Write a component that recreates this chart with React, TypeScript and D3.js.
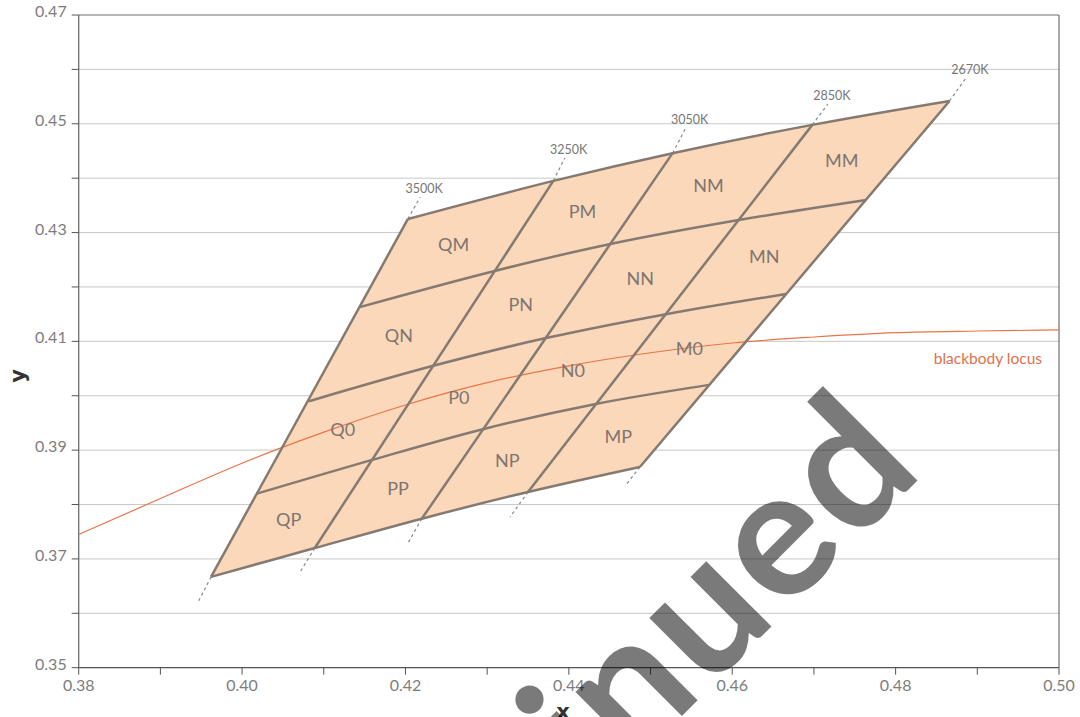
import React from "react";
import * as d3 from "d3";

const W = 1080;
const H = 717;

const xTicks = [0.38, 0.39, 0.4, 0.41, 0.42, 0.43, 0.44, 0.45, 0.46, 0.47, 0.48, 0.49, 0.5];
const xTickLabels = ["0.38", "", "0.40", "", "0.42", "", "0.44", "", "0.46", "", "0.48", "", "0.50"];
const yTicks = [0.35, 0.36, 0.37, 0.38, 0.39, 0.4, 0.41, 0.42, 0.43, 0.44, 0.45, 0.46, 0.47];
const yTickLabels = ["0.35", "", "0.37", "", "0.39", "", "0.41", "", "0.43", "", "0.45", "", "0.47"];

const isotherms = ["3500K", "3250K", "3050K", "2850K", "2670K"];
const colNames = ["Q", "P", "N", "M"];
const rowNames = ["M", "N", "0", "P"];

// Quadrangle grid lines (x, y chromaticity), from 3500K to 2670K
const edgeTop: [number, number][] = [[0.4203, 0.4325], [0.4381, 0.4395], [0.4527, 0.4446], [0.4698, 0.4498], [0.4866, 0.4542]];
const lineMN: [number, number][] = [[0.4144, 0.4163], [0.4308, 0.4229], [0.4451, 0.4279], [0.4608, 0.4323], [0.4764, 0.4360]];
const lineN0: [number, number][] = [[0.4082, 0.3990], [0.4234, 0.4055], [0.4372, 0.4106], [0.4519, 0.4150], [0.4666, 0.4187]];
const line0P: [number, number][] = [[0.4018, 0.3820], [0.4159, 0.3882], [0.4296, 0.3939], [0.4433, 0.3985], [0.4572, 0.4020]];
const edgeBottom: [number, number][] = [[0.3962, 0.3667], [0.4089, 0.3720], [0.4220, 0.3774], [0.4350, 0.3823], [0.4487, 0.3869]];

// dashed isotherm extensions
const isoLow: [number, number][] = [[0.3947, 0.3623], [0.4071, 0.3676], [0.4203, 0.3729], [0.4328, 0.3777], [0.4469, 0.3834]];
const isoHigh: [number, number][] = [[0.4218, 0.4365], [0.4395, 0.4437], [0.4543, 0.4492], [0.4717, 0.4536], [0.4886, 0.4584]];

// blackbody locus
const locusX = [0.38, 0.39, 0.4, 0.41, 0.42, 0.43, 0.44, 0.45, 0.46, 0.47, 0.48, 0.49, 0.5];
const locusY = [0.3745, 0.3811, 0.3876, 0.3933, 0.3983, 0.4024, 0.4055, 0.4079, 0.4097, 0.4108, 0.4116, 0.4119, 0.4121];

const FONT = "Lato, 'Open Sans', sans-serif";

export default function App() {
  const x = d3.scaleLinear().domain([0.38, 0.5]).range([78.7, 1059]);
  const y = d3.scaleLinear().domain([0.35, 0.47]).range([667.7, 15]);

  const rows = [edgeTop, lineMN, lineN0, line0P, edgeBottom];
  const curve = d3
    .line<[number, number]>()
    .x((d) => x(d[0]))
    .y((d) => y(d[1]))
    .curve(d3.curveCatmullRom.alpha(0.5));
  const straight = d3
    .line<[number, number]>()
    .x((d) => x(d[0]))
    .y((d) => y(d[1]));

  const topD = curve(edgeTop) || "";
  const botD = (curve([...edgeBottom].reverse()) || "").replace(/^M/, "L");
  const outline = topD + botD + "Z";

  const locus = d3
    .line<number>()
    .x((d) => x(d))
    .y((_, i) => y(locusY[i]))
    .curve(d3.curveMonotoneX)(locusX) || "";

  const cells: { label: string; cx: number; cy: number }[] = [];
  for (let r = 0; r < 4; r++) {
    for (let c = 0; c < 4; c++) {
      const pts = [rows[r][c], rows[r][c + 1], rows[r + 1][c + 1], rows[r + 1][c]];
      const cx = d3.mean(pts, (p) => x(p[0])) as number;
      const cy = d3.mean(pts, (p) => y(p[1])) as number;
      cells.push({ label: colNames[c] + rowNames[r], cx, cy });
    }
  }

  const x0 = x(0.38);
  const x1 = x(0.5);
  const yb = y(0.35);
  const yt = y(0.47);
  const stroke = "#857a72";

  return (
    <svg width={W} height={H} style={{ position: "absolute", left: 0, top: 0, background: "#fff" }}>
      {/* gridlines */}
      {yTicks.slice(1, -1).map((t) => (
        <line key={"g" + t} x1={x0} x2={x1} y1={y(t)} y2={y(t)} stroke="#c9c9c9" strokeWidth={1} />
      ))}
      {/* frame */}
      <line x1={x0} x2={x1} y1={yt} y2={yt} stroke="#6e6e6e" strokeWidth={1.2} />
      <line x1={x1} x2={x1} y1={yt} y2={yb} stroke="#6e6e6e" strokeWidth={1.2} />
      <line x1={x0} x2={x1} y1={yb} y2={yb} stroke="#555" strokeWidth={1.3} />
      <line x1={x0} x2={x0} y1={yt} y2={yb} stroke="#6e6e6e" strokeWidth={1.3} />
      {/* ticks */}
      {yTicks.map((t, i) => (
        <g key={"yt" + t}>
          <line x1={x0 - 7} x2={x0} y1={y(t)} y2={y(t)} stroke="#555" strokeWidth={1} />
          {yTickLabels[i] && (
            <text x={x0 - 12} y={y(t) + 2} textAnchor="end" fontFamily={FONT} fontSize={16} fill="#7d7d7d">
              {yTickLabels[i]}
            </text>
          )}
        </g>
      ))}
      {xTicks.map((t, i) => (
        <g key={"xt" + t}>
          <line x1={x(t)} x2={x(t)} y1={yb} y2={yb + 7} stroke="#555" strokeWidth={1} />
          {xTickLabels[i] && (
            <text x={x(t)} y={yb + 23} textAnchor="middle" fontFamily={FONT} fontSize={16} fill="#7d7d7d">
              {xTickLabels[i]}
            </text>
          )}
        </g>
      ))}
      {/* axis titles */}
      <text x={563} y={719} textAnchor="middle" fontFamily="'DejaVu Sans', sans-serif" fontWeight={700} fontSize={21} fill="#333">
        x
      </text>
      <text
        transform={`translate(25,376) rotate(-90)`}
        textAnchor="middle"
        fontFamily="'DejaVu Sans', sans-serif"
        fontWeight={700}
        fontSize={21}
        fill="#333"
      >
        y
      </text>

      {/* quadrangle fill */}
      <path d={outline} fill="#fbd8b9" stroke="none" />

      {/* blackbody locus */}
      <path d={locus} fill="none" stroke="#e8754a" strokeWidth={1.2} />
      <text x={1042} y={364} textAnchor="end" fontFamily={FONT} fontSize={15.5} fill="#e0714c">
        blackbody locus
      </text>

      {/* dashed isotherm extensions */}
      {isotherms.map((name, i) => (
        <g key={"iso" + name}>
          <path d={straight([edgeBottom[i], isoLow[i]]) || ""} stroke="#888" strokeWidth={1.2} strokeDasharray="3,3" fill="none" />
          <path d={straight([edgeTop[i], isoHigh[i]]) || ""} stroke="#888" strokeWidth={1.2} strokeDasharray="3,3" fill="none" />
          <text x={x(isoHigh[i][0]) + 4} y={y(isoHigh[i][1]) - 4} textAnchor="middle" fontFamily={FONT} fontSize={12.5} fill="#777">
            {name}
          </text>
        </g>
      ))}

      {/* row lines */}
      {rows.map((r, i) => (
        <path key={"row" + i} d={curve(r) || ""} fill="none" stroke={stroke} strokeWidth={2.5} />
      ))}
      {/* isotherm lines */}
      {isotherms.map((name, i) => (
        <path key={"isl" + name} d={straight([edgeBottom[i], edgeTop[i]]) || ""} fill="none" stroke={stroke} strokeWidth={2.5} />
      ))}

      {/* cell labels */}
      {cells.map((c) => (
        <text key={c.label} x={c.cx} y={c.cy + 6} textAnchor="middle" fontFamily={FONT} fontSize={18} fill="#7d7570">
          {c.label}
        </text>
      ))}

      {/* watermark */}
      <text
        transform="translate(928,470) rotate(-45)"
        textAnchor="end"
        fontFamily={FONT}
        fontWeight={700}
        fontSize={180}
        letterSpacing={4}
        fill="#000"
        fillOpacity={0.52}
      >
        Discontinued
      </text>
    </svg>
  );
}
